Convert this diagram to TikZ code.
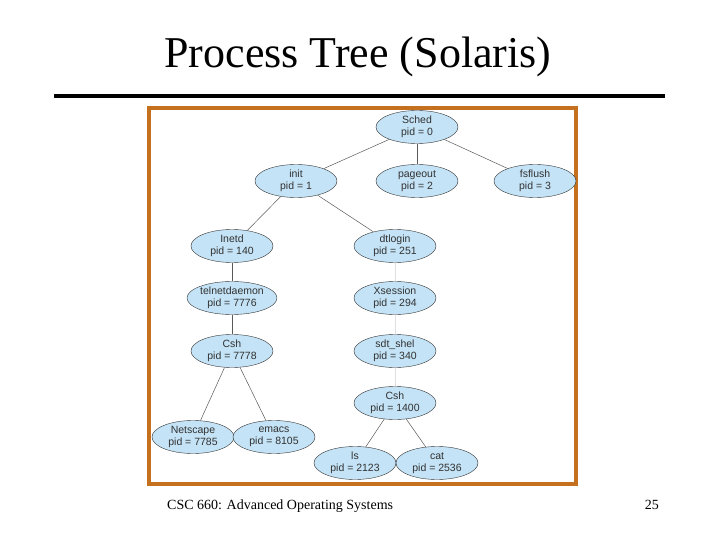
\documentclass[tikz,border=0pt]{standalone}
\usepackage{fontspec}
\setmainfont{Liberation Serif}
\newfontfamily\procfont{Liberation Sans}
\usetikzlibrary{shapes.geometric}

\definecolor{frameorange}{RGB}{196,112,30}
\definecolor{procblue}{RGB}{196,227,246}
\definecolor{proctext}{RGB}{50,50,50}

\begin{document}
\begin{tikzpicture}[
    x=1pt, y=-1pt,
    proc/.style={
        draw = black!80,
        fill = procblue,
        ellipse,
        minimum width = 82pt,
        minimum height = 33pt,
        inner sep = 0pt,
        align = center,
        text = proctext,
        font = \procfont\fontsize{10.5}{12.5}\selectfont
    },
    link/.style={
        draw = black!65,
        line width = 0.5pt
    },
    faint/.style={
        draw = black!12,
        line width = 0.5pt
    },
    plain/.style={
        draw = none,
        fill = none,
        inner sep = 0pt
    }
    ]

\useasboundingbox (0,0) rectangle (720,540);

% title and rule
\node[plain, font=\fontsize{44}{50}\selectfont] (title) at (358,57) {Process Tree (Solaris)};
\draw[line width=4pt] (54,96) -- (665,96);

% frame
\draw[frameorange, line width=4pt] (149,108) rectangle (576,484);

% processes
\node[proc] (sched)    at (417,127) {Sched\\pid = 0};
\node[proc] (init)     at (296,181) {init\\pid = 1};
\node[proc] (pageout)  at (417,181) {pageout\\pid = 2};
\node[proc] (fsflush)  at (535,181) {fsflush\\pid = 3};
\node[proc] (inetd)    at (232,246) {Inetd\\pid = 140};
\node[proc] (dtlogin)  at (395,246) {dtlogin\\pid = 251};
\node[proc] (telnetd)  at (232,298) {telnetdaemon\\pid = 7776};
\node[proc] (xsession) at (395,298) {Xsession\\pid = 294};
\node[proc] (cshA)     at (232,351) {Csh\\pid = 7778};
\node[proc] (sdtshel)  at (395,351) {sdt\_shel\\pid = 340};
\node[proc] (cshB)     at (395,403) {Csh\\pid = 1400};
\node[proc] (netscape) at (193,437) {Netscape\\pid = 7785};
\node[proc] (emacs)    at (274,437) {emacs\\pid = 8105};
\node[proc] (ls)       at (355,463) {ls\\pid = 2123};
\node[proc] (cat)      at (437,463) {cat\\pid = 2536};

% links
\foreach \kid in {init,pageout,fsflush}
    \draw[link] (sched) -- (\kid);
\foreach \kid in {inetd,dtlogin}
    \draw[link] (init) -- (\kid);
\draw[link] (inetd) -- (telnetd);
\draw[link] (telnetd) -- (cshA);
\foreach \kid in {netscape,emacs}
    \draw[link] (cshA) -- (\kid);
\draw[faint] (dtlogin) -- (xsession);
\draw[faint] (xsession) -- (sdtshel);
\draw[faint] (sdtshel) -- (cshB);
\foreach \kid in {ls,cat}
    \draw[link] (cshB) -- (\kid);

% footer
\node[plain, anchor=base west, font=\fontsize{14}{16}\selectfont] (course) at (167,509) {CSC 660: Advanced Operating Systems};
\node[plain, anchor=base east, font=\fontsize{14}{16}\selectfont] (page) at (659,509) {25};
\end{tikzpicture}
\end{document}
